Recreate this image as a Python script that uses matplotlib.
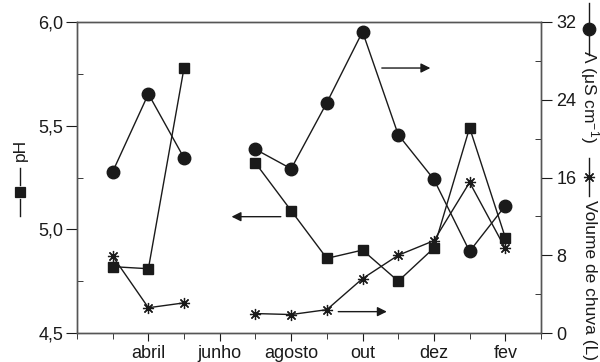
import matplotlib
matplotlib.use('Agg')
import matplotlib.pyplot as plt
import numpy as np
from matplotlib.lines import Line2D
from matplotlib.ticker import FuncFormatter, MultipleLocator

plt.rcParams['font.family'] = ['Liberation Sans', 'DejaVu Sans']
plt.rcParams['mathtext.fontset'] = 'custom'
plt.rcParams['mathtext.rm'] = 'Liberation Sans'
plt.rcParams['mathtext.it'] = 'Liberation Sans:italic'

# meses: 1 = março ... 12 = fevereiro (junho sem coleta)
meses = np.arange(1, 13)
ph = [4.82, 4.81, 5.78, np.nan, 5.32, 5.09, 4.86, 4.90, 4.75, 4.91, 5.49, 4.96]
condut = [16.6, 24.6, 18.0, np.nan, 18.9, 16.9, 23.7, 31.0, 20.4, 15.8, 8.4, 13.1]
volume = [7.9, 2.6, 3.1, np.nan, 2.0, 1.9, 2.4, 5.6, 8.0, 9.5, 15.5, 8.7]

rotulos = ['abril', 'junho', 'agosto', 'out', 'dez', 'fev']
pos_rot = [2, 4, 6, 8, 10, 12]

cor = '#1a1a1a'
W, H = 600, 362
estrela = (8, 2, 0)

fig = plt.figure(figsize=(6, 3.62), dpi=100)
ax1 = fig.add_axes([77/W, 1-333/H, 464/W, 311/H])
ax2 = ax1.twinx()

ax1.plot(meses, ph, '-', color=cor, lw=1, marker='s', ms=7, mfc=cor, mec=cor, zorder=3)
ax2.plot(meses, condut, '-', color=cor, lw=1, marker='o', ms=9, mfc=cor, mec=cor, zorder=3)
ax2.plot(meses, volume, '-', color=cor, lw=1, marker=estrela, ms=8, mew=0.9, mec=cor, zorder=3)

ax1.set_xlim(0, 13)
ax1.set_ylim(4.5, 6.0)
ax2.set_ylim(0, 32)

ax1.set_xticks(pos_rot)
ax1.set_xticklabels(rotulos)
ax1.xaxis.set_minor_locator(MultipleLocator(1))
ax1.yaxis.set_major_locator(MultipleLocator(0.5))
ax1.yaxis.set_minor_locator(MultipleLocator(0.25))
ax1.yaxis.set_major_formatter(FuncFormatter(lambda v, p: ('%.1f' % v).replace('.', ',')))
ax2.yaxis.set_major_locator(MultipleLocator(8))
ax2.yaxis.set_minor_locator(MultipleLocator(4))

ax1.tick_params(axis='x', which='major', direction='out', length=6, labelsize=13, colors=cor, pad=3)
ax1.tick_params(axis='x', which='minor', direction='out', length=4, colors=cor)
ax1.tick_params(axis='y', which='major', direction='out', length=8, labelsize=13, colors=cor, pad=2)
ax1.tick_params(axis='y', which='minor', direction='in', length=4, colors=cor)
ax2.tick_params(axis='y', which='major', direction='out', length=8, labelsize=13, colors=cor, pad=3)
ax2.tick_params(axis='y', which='minor', direction='in', length=4, colors=cor)
for a in (ax1, ax2):
    for s in a.spines.values():
        s.set_color('#555555')
        s.set_linewidth(1)

# setas indicando o eixo de cada série
seta = dict(arrowstyle='-|>', color=cor, lw=1, mutation_scale=14, shrinkA=0, shrinkB=0)
ax1.annotate('', xy=(9.9, 5.778), xytext=(8.54, 5.778), arrowprops=seta)
ax1.annotate('', xy=(4.33, 5.061), xytext=(5.71, 5.061), arrowprops=seta)
ax1.annotate('', xy=(8.68, 4.603), xytext=(7.32, 4.603), arrowprops=seta)

# rótulos dos eixos (símbolo da série desenhado entre dois traços)
def px(x, y):
    return x / W, 1 - y / H

def simbolo(x, y, marcador, ms, a, b):
    for y0, y1 in [(y - a, y - b), (y + b, y + a)]:
        (fx, fy0), (_, fy1) = px(x, y0), px(x, y1)
        fig.add_artist(Line2D([fx, fx], [fy0, fy1], color=cor, lw=1))
    fx, fy = px(x, y)
    fig.add_artist(Line2D([fx], [fy], marker=marcador, ms=ms, color=cor, mew=0.9, ls=''))

simbolo(20, 192, 's', 7, 24, 7)
fig.text(*px(20, 150), 'pH', rotation=90, ha='center', va='center', fontsize=12.5, color=cor)

simbolo(589, 29, 'o', 9, 26, 7)
fig.text(*px(589, 50), '\u039b (\u03bcS cm$^{-1}$)', rotation=-90,
         ha='center', va='top', fontsize=12.5, color=cor)
simbolo(589, 177, estrela, 8, 19, 6)
fig.text(*px(589, 200), 'Volume de chuva (L)', rotation=-90,
         ha='center', va='top', fontsize=12.5, color=cor)

fig.savefig('out.png', dpi=100)
